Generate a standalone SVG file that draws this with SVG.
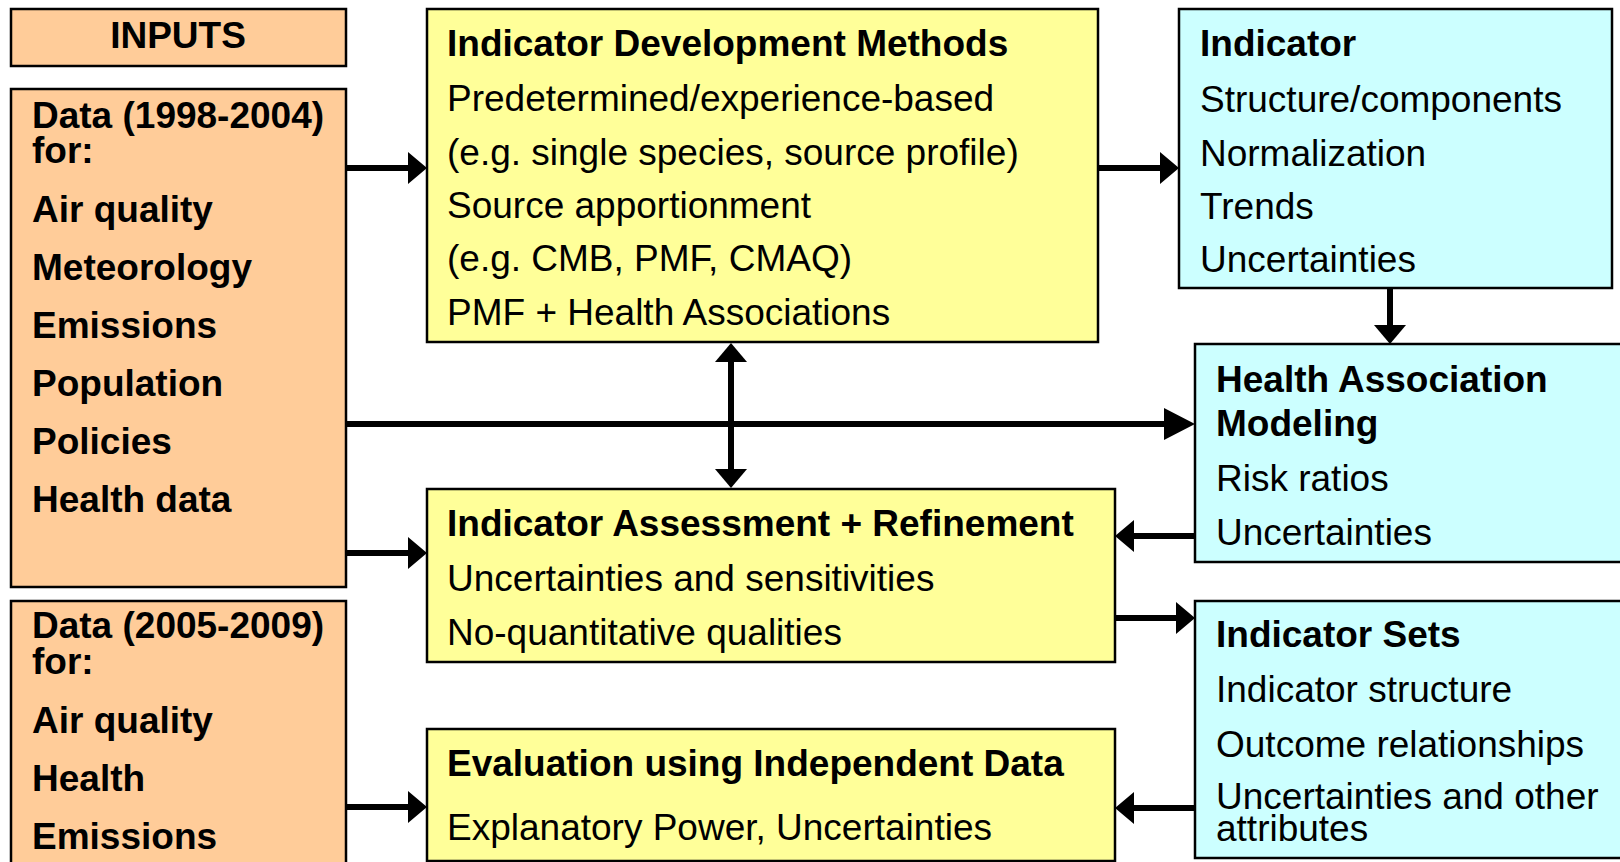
<svg xmlns="http://www.w3.org/2000/svg" width="1620" height="862" viewBox="0 0 1620 862">
<style>
text{font-family:"Liberation Sans",Arial,sans-serif;font-size:37px;fill:#000}
.b{font-weight:bold}
.box{stroke:#000;stroke-width:2.5}
.or{fill:#FFCC99}
.ye{fill:#FFFF99}
.cy{fill:#CCFFFF}
.ln{stroke:#000;stroke-width:6;fill:none}
</style>
<defs>
<marker id="ah" markerUnits="userSpaceOnUse" markerWidth="20" markerHeight="34" refX="0" refY="16" orient="auto" overflow="visible">
<path d="M0,0 L19,16 L0,32 Z" fill="#000"/>
</marker>
<marker id="ahs" markerUnits="userSpaceOnUse" markerWidth="20" markerHeight="34" refX="19" refY="16" orient="auto-start-reverse" overflow="visible">
<path d="M0,0 L19,16 L0,32 Z" fill="#000"/>
</marker>
<marker id="ahl" markerUnits="userSpaceOnUse" markerWidth="32" markerHeight="34" refX="0" refY="16" orient="auto" overflow="visible">
<path d="M0,0 L31,16 L0,32 Z" fill="#000"/>
</marker>
</defs>
<rect width="1620" height="862" fill="#fff"/>

<g id="connectors">
<path class="ln" d="M346,168 H408" marker-end="url(#ah)"/>
<path class="ln" d="M1098,168 H1160" marker-end="url(#ah)"/>
<path class="ln" d="M1390,288 V325" marker-end="url(#ah)"/>
<path class="ln" d="M346,424 H1164" marker-end="url(#ahl)"/>
<path class="ln" d="M731,362 V469"/>
<path d="M731,343 L747,362 L715,362 Z" fill="#000"/>
<path d="M731,488 L747,469 L715,469 Z" fill="#000"/>
<path class="ln" d="M346,553 H408" marker-end="url(#ah)"/>
<path class="ln" d="M1195,536 H1134" marker-end="url(#ah)"/>
<path class="ln" d="M1115,618 H1176" marker-end="url(#ah)"/>
<path class="ln" d="M1195,808 H1134" marker-end="url(#ah)"/>
<path class="ln" d="M346,807 H408" marker-end="url(#ah)"/>
</g>

<g id="inputs">
<rect class="box or" x="11" y="9" width="335" height="57"/>
<text class="b" x="178" y="48" text-anchor="middle">INPUTS</text>
</g>

<g id="data1">
<rect class="box or" x="11" y="89" width="335" height="498"/>
<text class="b" x="32" y="128">Data (1998-2004)</text>
<text class="b" x="32" y="163">for:</text>
<text class="b" x="32" y="222">Air quality</text>
<text class="b" x="32" y="280">Meteorology</text>
<text class="b" x="32" y="338">Emissions</text>
<text class="b" x="32" y="396">Population</text>
<text class="b" x="32" y="454">Policies</text>
<text class="b" x="32" y="512">Health data</text>
</g>

<g id="data2">
<rect class="box or" x="11" y="601" width="335" height="275"/>
<text class="b" x="32" y="638">Data (2005-2009)</text>
<text class="b" x="32" y="674">for:</text>
<text class="b" x="32" y="733">Air quality</text>
<text class="b" x="32" y="791">Health</text>
<text class="b" x="32" y="849">Emissions</text>
</g>

<g id="methods">
<rect class="box ye" x="427" y="9" width="671" height="333"/>
<text class="b" x="447" y="56">Indicator Development Methods</text>
<text x="447" y="111">Predetermined/experience-based</text>
<text x="447" y="165">(e.g. single species, source profile)</text>
<text x="447" y="218">Source apportionment</text>
<text x="447" y="271">(e.g. CMB, PMF, CMAQ)</text>
<text x="447" y="325">PMF + Health Associations</text>
</g>

<g id="assessment">
<rect class="box ye" x="427" y="489" width="688" height="173"/>
<text class="b" x="447" y="536">Indicator Assessment + Refinement</text>
<text x="447" y="591">Uncertainties and sensitivities</text>
<text x="447" y="645">No-quantitative qualities</text>
</g>

<g id="evaluation">
<rect class="box ye" x="427" y="729" width="688" height="132"/>
<text class="b" x="447" y="776">Evaluation using Independent Data</text>
<text x="447" y="840">Explanatory Power, Uncertainties</text>
</g>

<g id="indicator">
<rect class="box cy" x="1179" y="9" width="433" height="279"/>
<text class="b" x="1200" y="56">Indicator</text>
<text x="1200" y="112">Structure/components</text>
<text x="1200" y="166">Normalization</text>
<text x="1200" y="219">Trends</text>
<text x="1200" y="272">Uncertainties</text>
</g>

<g id="health">
<rect class="box cy" x="1195" y="344" width="440" height="218"/>
<text class="b" x="1216" y="392">Health Association</text>
<text class="b" x="1216" y="436">Modeling</text>
<text x="1216" y="491">Risk ratios</text>
<text x="1216" y="545">Uncertainties</text>
</g>

<g id="sets">
<rect class="box cy" x="1195" y="601" width="440" height="257"/>
<text class="b" x="1216" y="647">Indicator Sets</text>
<text x="1216" y="702">Indicator structure</text>
<text x="1216" y="757">Outcome relationships</text>
<text x="1216" y="809">Uncertainties and other</text>
<text x="1216" y="841">attributes</text>
</g>
</svg>
